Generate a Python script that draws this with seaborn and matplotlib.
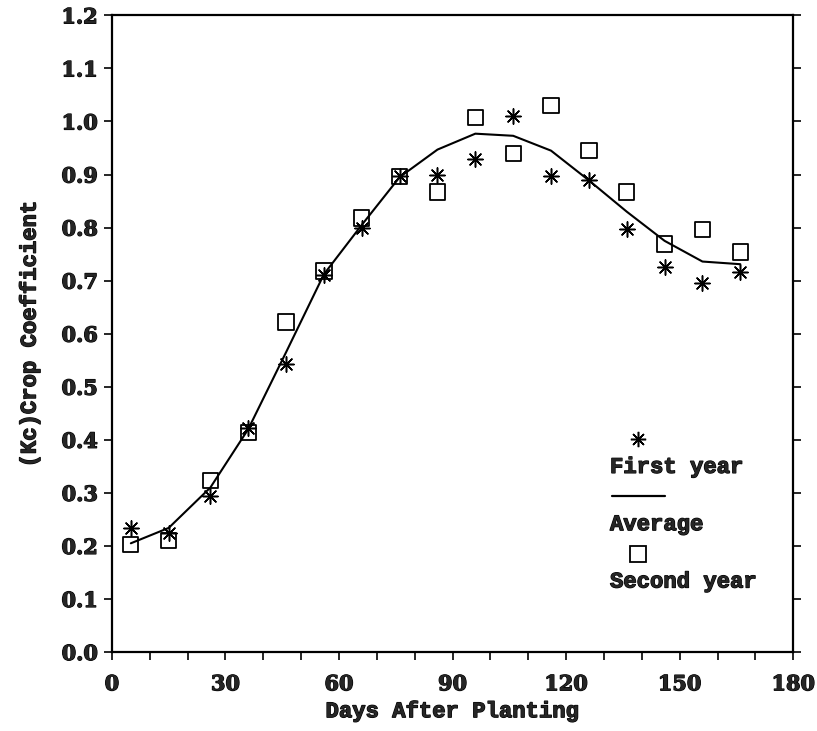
import matplotlib
matplotlib.use("Agg")
import matplotlib.pyplot as plt
import matplotlib.patheffects as pe
import seaborn as sns
import pandas as pd

days = [5, 15, 26, 36, 46, 56, 66, 76, 86, 96, 106, 116, 126, 136, 146, 156, 166]
first_year = [0.233, 0.224, 0.295, 0.423, 0.543, 0.711, 0.800, 0.897, 0.899, 0.929, 1.010, 0.897, 0.890, 0.797, 0.726, 0.696, 0.717]
second_year = [0.203, 0.210, 0.323, 0.414, 0.622, 0.718, 0.818, 0.897, 0.867, 1.008, 0.940, 1.030, 0.946, 0.867, 0.769, 0.796, 0.754]
average = [0.205, 0.234, 0.310, 0.420, 0.565, 0.712, 0.805, 0.895, 0.947, 0.977, 0.973, 0.945, 0.889, 0.830, 0.775, 0.736, 0.731]

df = pd.DataFrame({"days": days, "first": first_year, "second": second_year, "avg": average})

sns.set_theme(style="ticks")
plt.rcParams["font.family"] = ["Liberation Mono", "DejaVu Sans Mono"]
plt.rcParams["font.weight"] = "bold"

bold = [pe.withStroke(linewidth=0.9, foreground="black")]

fig = plt.figure(figsize=(8.17, 7.31), dpi=100)
ax = fig.add_axes([0.137, 0.108, 0.834, 0.871])

sns.lineplot(data=df, x="days", y="avg", ax=ax, color="black", linewidth=1.5)
sns.scatterplot(data=df, x="days", y="first", ax=ax, marker=(8, 2, 0), s=120,
                color="black", linewidth=1.1, edgecolor="black")
sns.scatterplot(data=df, x="days", y="second", ax=ax, marker="s", s=120,
                facecolor="none", edgecolor="black", linewidth=1.3)

ax.set_xlim(0, 180)
ax.set_ylim(0, 1.2)
ax.set_xticks(range(0, 181, 30))
ax.set_xticks(range(0, 181, 10), minor=True)
ax.set_yticks([i / 10 for i in range(13)])
ax.set_yticklabels([f"{i/10:.1f}" for i in range(13)])
ax.tick_params(axis="both", which="major", labelsize=16, width=1.4, length=6, direction="out")
ax.tick_params(axis="x", which="major", pad=10)
ax.tick_params(axis="y", which="major", pad=4)
ax.tick_params(axis="x", which="minor", width=1.4, length=6, direction="out")
ax.tick_params(axis="y", right=True, labelright=False)
for lab in ax.get_xticklabels() + ax.get_yticklabels():
    lab.set_fontweight("bold")
    lab.set_family(["DejaVu Serif"])
    lab.set_fontsize(15)
    lab.set_path_effects(bold)
for sp in ax.spines.values():
    sp.set_visible(True)
    sp.set_linewidth(1.6)
    sp.set_color("black")

ax.set_xlabel("Days After Planting", fontsize=16, fontweight="bold", path_effects=bold, labelpad=5)
ax.set_ylabel("(Kc)Crop Coefficient", fontsize=16, fontweight="bold", path_effects=bold, labelpad=15)

# legend, stacked marker-above-label
tr = ax.transAxes
ax.plot([0.772], [0.334], marker=(8, 2, 0), markersize=11, color="black",
        markeredgewidth=1.1, transform=tr)
ax.text(0.731, 0.290, "First year", transform=tr, fontsize=16, fontweight="bold",
        va="center", path_effects=bold)
ax.plot([0.734, 0.812], [0.245, 0.245], color="black", linewidth=1.6, transform=tr)
ax.text(0.731, 0.200, "Average", transform=tr, fontsize=16, fontweight="bold",
        va="center", path_effects=bold)
ax.plot([0.772], [0.154], marker="s", markersize=11, markerfacecolor="none",
        markeredgecolor="black", markeredgewidth=1.3, transform=tr)
ax.text(0.731, 0.110, "Second year", transform=tr, fontsize=16, fontweight="bold",
        va="center", path_effects=bold)

fig.savefig("out.png", dpi=100)
